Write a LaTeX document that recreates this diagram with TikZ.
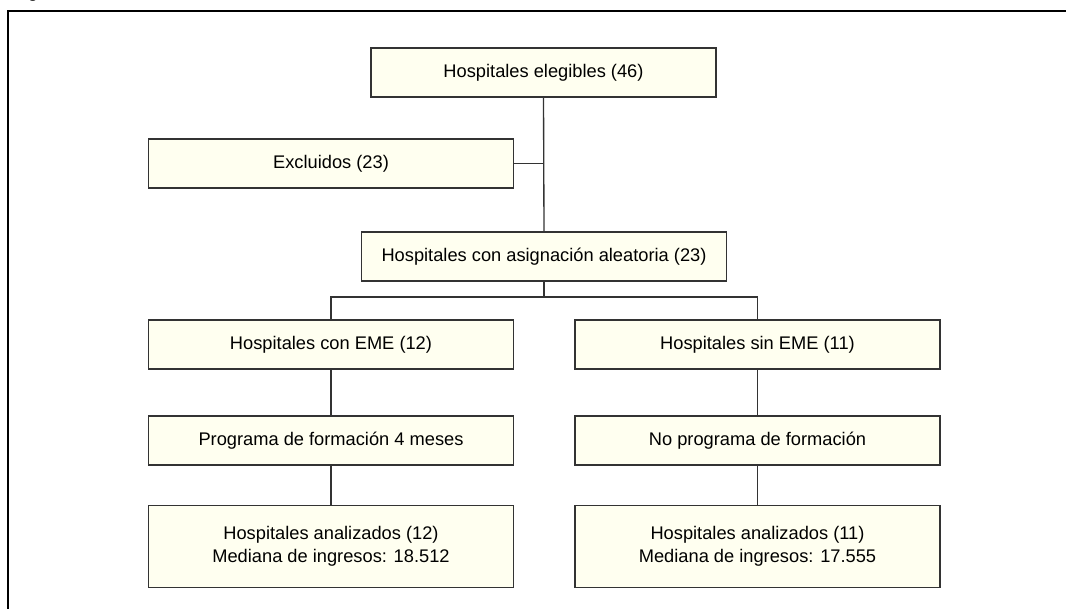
\documentclass[tikz,border=0pt]{standalone}
\usepackage{fontspec}
\setmainfont{Liberation Sans}
\definecolor{boxfill}{HTML}{FFFFF0}
\definecolor{linec}{HTML}{333333}
\begin{document}
\begin{tikzpicture}[x=0.75pt,y=-0.75pt,
  box/.style={draw=linec,line width=1pt,fill=boxfill,minimum width=273.75pt,minimum height=36.75pt,inner sep=0pt,align=center,font=\fontsize{13.7}{17}\selectfont},
  conn/.style={draw=linec,line width=1pt}]
\useasboundingbox (0,0) rectangle (1066,608);
\node[anchor=base west,font=\fontsize{13.7}{17}\selectfont] (fig) at (8,-3) {Figura};
\draw[line width=1.4pt] (8,620) -- (8,11) -- (1070,11);
\node[box,minimum width=258.75pt] (eleg) at (543.5,72.5) {Hospitales elegibles (46)};
\node[box] (excl) at (331,163.5) {Excluidos (23)};
\node[box] (rand) at (544,256.5) {Hospitales con asignación aleatoria (23)};
\node[box] (con) at (331,344.5) {Hospitales con EME (12)};
\node[box] (sin) at (757.5,344.5) {Hospitales sin EME (11)};
\node[box] (prog) at (331,440.5) {Programa de formación 4 meses};
\node[box] (noprog) at (757.5,440.5) {No programa de formación};
\node[box,minimum height=61.5pt] (an1) at (331,546.5) {Hospitales analizados (12)\\Mediana de ingresos: 18.512};
\node[box,minimum height=61.5pt] (an2) at (757.5,546.5) {Hospitales analizados (11)\\Mediana de ingresos: 17.555};
\coordinate (j1) at (eleg.south |- excl.east);
\draw[conn] (eleg.south) -- (rand.north);
\draw[conn] (excl.east) -- (j1);
\coordinate (j2) at (544,297);
\draw[conn] (rand.south) -- (j2);
\draw[conn] (con.north) |- (j2) -| (sin.north);
\draw[conn] (con.south) -- (prog.north);
\draw[conn] (prog.south) -- (an1.north);
\draw[conn] (sin.south) -- (noprog.north);
\draw[conn] (noprog.south) -- (an2.north);
\end{tikzpicture}
\end{document}
